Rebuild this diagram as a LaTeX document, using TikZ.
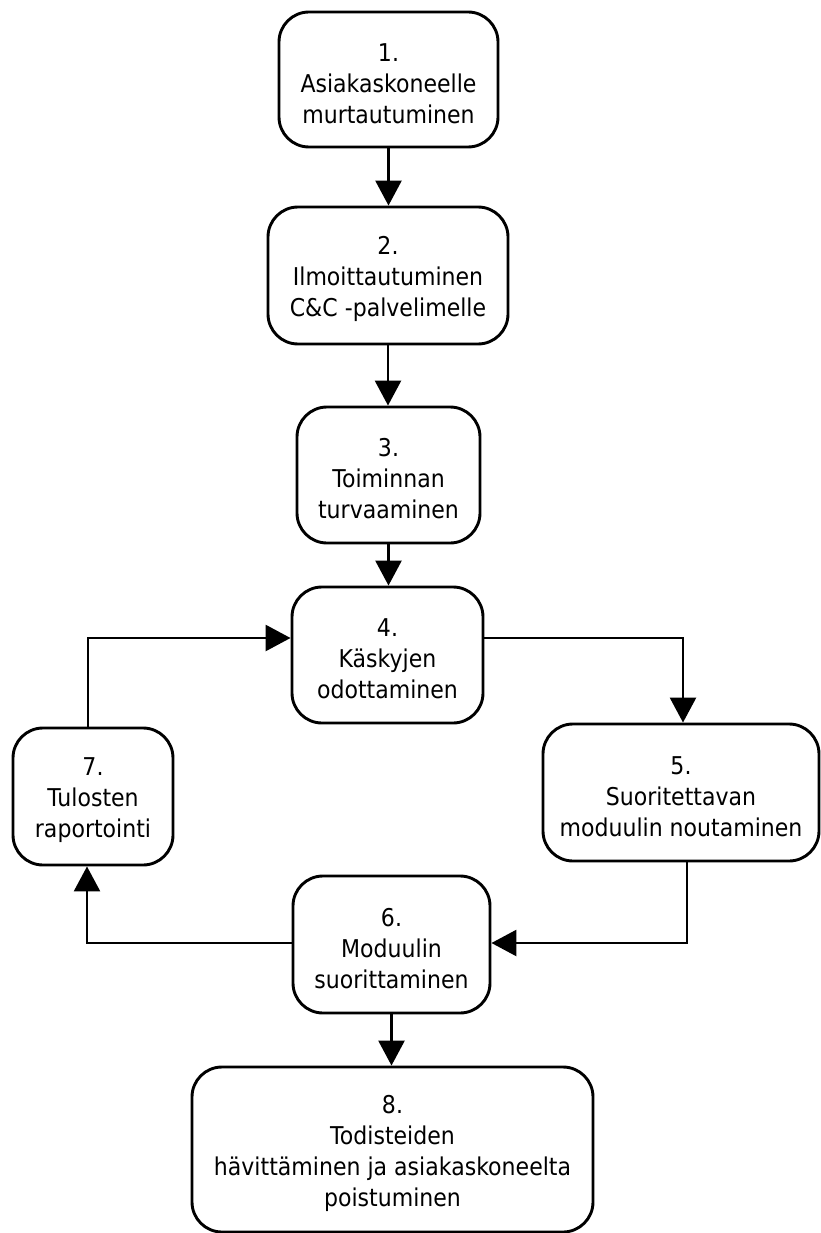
\documentclass[tikz,border=0pt]{standalone}
\usepackage{fontspec}
\setmainfont{DejaVu Sans}[FakeStretch=0.9]
\usetikzlibrary{arrows.meta}
\newcommand{\toppad}{\rule{0pt}{26pt}}
\begin{document}
\begin{tikzpicture}[x=1pt,y=-1pt,
  box/.style={draw, line width=2.9pt, rounded corners=30pt, align=center, inner sep=0pt,
    font=\fontsize{24.5}{31}\selectfont},
  link/.style={line width=2.7pt, -{Triangle[length=25pt,width=26pt]}}]
\useasboundingbox[fill=white] (0,0) rectangle (821,1233);

\node[box, minimum width=219pt, minimum height=135pt] (n1) at (388.5,79.5) {\toppad 1.\\Asiakaskoneelle\\murtautuminen};
\node[box, minimum width=240pt, minimum height=137pt] (n2) at (388,275.5) {\toppad 2.\\Ilmoittautuminen\\C\&C -palvelimelle};
\node[box, minimum width=183pt, minimum height=136pt] (n3) at (388.5,475) {\toppad 3.\\Toiminnan\\turvaaminen};
\node[box, minimum width=191pt, minimum height=136pt] (n4) at (387.5,655) {\toppad 4.\\Käskyjen\\odottaminen};
\node[box, minimum width=276pt, minimum height=137pt] (n5) at (681,792.5) {\toppad 5.\\Suoritettavan\\moduulin noutaminen};
\node[box, minimum width=197pt, minimum height=137pt] (n6) at (391.5,944.5) {\toppad 6.\\Moduulin\\suorittaminen};
\node[box, minimum width=160pt, minimum height=137pt] (n7) at (93,796.5) {\toppad 7.\\Tulosten\\raportointi};
\node[box, minimum width=401pt, minimum height=165pt] (n8) at (392.5,1149.5) {\toppad 8.\\Todisteiden\\hävittäminen ja asiakaskoneelta\\poistuminen};

\coordinate (c7) at (88,638);
\coordinate (c5) at (683,638);
\coordinate (c56) at (687,943);
\coordinate (c67) at (87,943);

\draw[link] (n1.south) -- (n1.south |- n2.north);
\draw[link] (n2.south) -- (n2.south |- n3.north);
\draw[link] (n3.south) -- (n3.south |- n4.north);
\draw[link] (n7.north -| c7) -- (c7) -- (c7 -| n4.west);
\draw[link] (c5 -| n4.east) -- (c5) -- (c5 |- n5.north);
\draw[link] (c56 |- n5.south) -- (c56) -- (c56 -| n6.east);
\draw[link] (c67 -| n6.west) -- (c67) -- (c67 |- n7.south);
\draw[link] (n6.south) -- (n6.south |- n8.north);
\end{tikzpicture}
\end{document}
